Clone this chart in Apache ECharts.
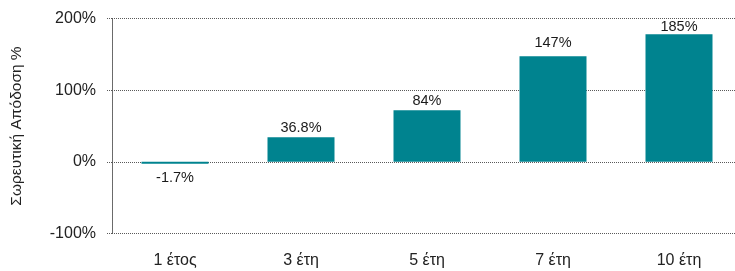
<!DOCTYPE html>
<html>
<head>
<meta charset="utf-8">
<script src="https://cdn.jsdelivr.net/npm/echarts@6/dist/echarts.min.js"></script>
<style>
    html, body { margin: 0; padding: 0; background: #fff; }
    #chart { width: 735px; height: 271px; }
</style>
</head>
<body>
<div id="chart"></div>
<script>
// κατηγορίες και τιμές (ύψη στηλών όπως φαίνονται στο γράφημα)
const categories = ['1 έτος', '3 έτη', '5 έτη', '7 έτη', '10 έτη']
const barValues = [-2.5, 34.4, 72.1, 147.4, 178]
// ετικέτες που γράφονται πάνω από τις στήλες
const barLabels = ['-1.7%', '36.8%', '84%', '147%', '185%']
const yTicks = [-100, 0, 100, 200]

const fontFamily = '"Liberation Sans", Arial, sans-serif'
const gridColor = '#5a5a5a'
const dotted = { color: gridColor, type: 'dotted', width: 1 }

function getOption () {
    // μικρές μετατοπίσεις ετικετών όπως στο πρωτότυπο
    const labelOffsets = { 3: [0, -4], 4: [0, 2] }
    const data = barValues.map((v, i) => ({
        value: v,
        label: v < 0
            ? { position: 'bottom', distance: 7 }
            : { offset: labelOffsets[i] || [0, 0] }
    }))
    return {
        animation: false,
        grid: {
            left: 112,
            right: -7,
            top: 18.5,
            bottom: 37.5,
            outerBoundsMode: 'none',
            containLabel: false
        },
        xAxis: {
            type: 'category',
            data: categories,
            axisLine: { show: false, onZero: false },
            axisTick: { show: false },
            axisLabel: {
                margin: 19,
                fontSize: 16,
                color: '#222',
                fontFamily: fontFamily
            }
        },
        yAxis: {
            type: 'value',
            min: yTicks[0],
            max: yTicks[yTicks.length - 1],
            interval: 100,
            name: 'Σωρευτική Απόδοση %',
            nameLocation: 'middle',
            nameGap: 87,
            nameTextStyle: {
                fontSize: 15.5,
                color: '#222',
                fontFamily: fontFamily
            },
            axisLine: { show: true, lineStyle: dotted },
            axisTick: { show: true, length: 6, lineStyle: dotted },
            splitLine: { show: true, lineStyle: dotted },
            axisLabel: {
                margin: 16,
                fontSize: 16,
                color: '#222',
                fontFamily: fontFamily,
                formatter: v => v + '%'
            }
        },
        series: [{
            type: 'bar',
            barWidth: 67,
            data: data,
            itemStyle: { color: '#00838F' },
            label: {
                show: true,
                position: 'top',
                distance: 2,
                fontSize: 14.5,
                color: '#1a1a1a',
                fontFamily: fontFamily,
                formatter: p => barLabels[p.dataIndex]
            }
        }]
    }
}

const chart = echarts.init(document.getElementById('chart'), null, { renderer: 'canvas' })
chart.setOption(getOption())
</script>
</body>
</html>
